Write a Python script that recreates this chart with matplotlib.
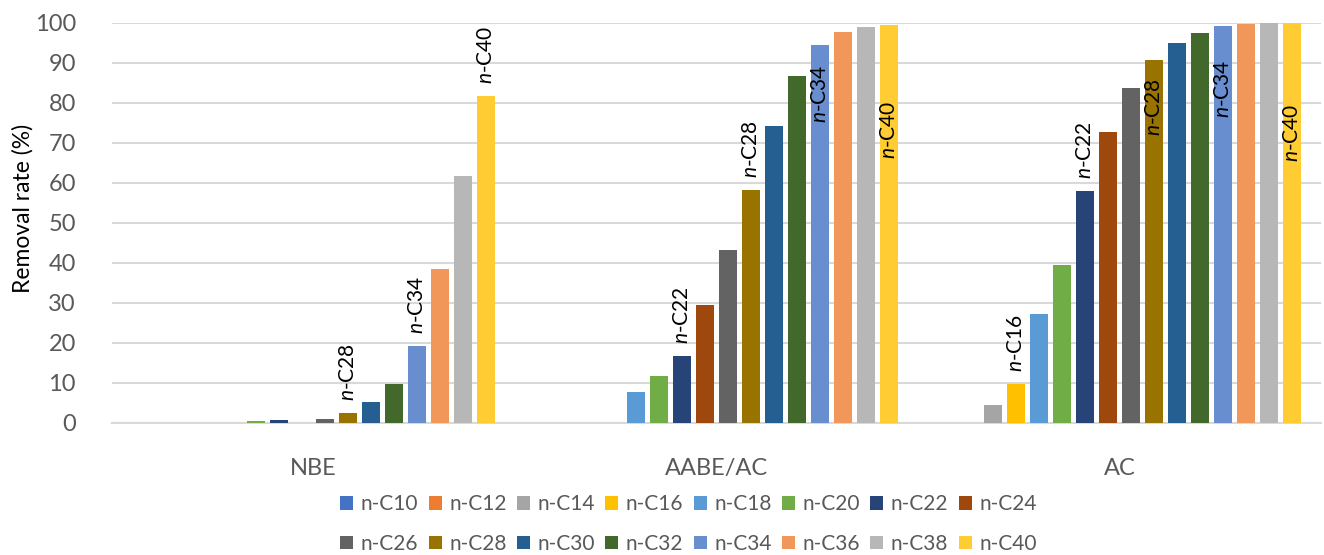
import matplotlib
matplotlib.use("Agg")
import matplotlib.pyplot as plt
from matplotlib.patches import Patch
import numpy as np

plt.rcParams["font.family"] = ["Lato", "DejaVu Sans"]
plt.rcParams["mathtext.fontset"] = "custom"
plt.rcParams["mathtext.rm"] = "Lato"
plt.rcParams["mathtext.it"] = "Lato:italic"

# data
groups = ["NBE", "AABE/AC", "AC"]
species = ["n-C10", "n-C12", "n-C14", "n-C16", "n-C18", "n-C20", "n-C22", "n-C24",
           "n-C26", "n-C28", "n-C30", "n-C32", "n-C34", "n-C36", "n-C38", "n-C40"]
nbe = [0, 0, 0, 0, 0, 0.4, 0.8, 0, 1.1, 2.4, 5.2, 9.8, 19.1, 38.4, 61.8, 81.6]
aabe_ac = [0, 0, 0, 0, 7.6, 11.6, 16.7, 29.5, 43.1, 58.3, 74.3, 86.8, 94.5, 97.7, 98.9, 99.5]
ac = [0, 0, 4.6, 9.7, 27.2, 39.5, 57.9, 72.8, 83.7, 90.6, 94.9, 97.4, 99.2, 99.8, 100, 99.9]
colors = ["#4472C4", "#ED7D31", "#A5A5A5", "#FFC000", "#5B9BD5", "#70AD47", "#264478", "#9E480E",
          "#636363", "#997300", "#255E91", "#43682B", "#698ED0", "#F1975A", "#B7B7B7", "#FFCD33"]

# labels on bars: (group index, species index, inside bar?)
labels = [(0, 9, False), (0, 12, False), (0, 15, False),
          (1, 6, False), (1, 9, False), (1, 12, True), (1, 15, True),
          (2, 3, False), (2, 6, False), (2, 9, True), (2, 12, True), (2, 15, True)]
inside_drop = {(1, 12): 5, (1, 15): 19, (2, 9): 4.4, (2, 12): 8.5, (2, 15): 20}

values = np.array([nbe, aabe_ac, ac])
x = np.arange(len(groups))
step = 0.0571
width = 0.0447

fig = plt.figure(figsize=(13.24, 5.55), dpi=100)
ax = fig.add_axes([0.0846, 0.238, 0.9131, 0.721])

for i, sp in enumerate(species):
    ax.bar(x + (i - 7.5) * step, values[:, i], width, color=colors[i], label=sp,
           zorder=3, clip_on=False)

for g, s, inside in labels:
    xp = x[g] + (s - 7.5) * step
    v = values[g, s]
    txt = r"$\it{n}$-C" + species[s][3:]
    if inside:
        ax.text(xp, v - inside_drop[(g, s)], txt, rotation=90, ha="center", va="top",
                fontsize=15, zorder=4)
    else:
        ax.text(xp, v + 3, txt, rotation=90, ha="center", va="bottom",
                fontsize=15, zorder=4)

ax.set_xlim(-0.5, 2.5)
ax.set_ylim(0, 100)
ax.set_yticks(range(0, 101, 10))
ax.set_xticks(x)
ax.set_xticklabels(groups)
ax.tick_params(axis="both", length=0, labelsize=17, colors="#595959")
ax.tick_params(axis="y", pad=26)
ax.tick_params(axis="x", pad=25)
ax.yaxis.grid(True, color="#d9d9d9", linewidth=1.5, zorder=0)
for sp in ["top", "right", "left"]:
    ax.spines[sp].set_visible(False)
ax.spines["bottom"].set_color("#d9d9d9")
ax.spines["bottom"].set_linewidth(1.5)
ax.set_ylabel("Removal rate (%)", fontsize=16.5, color="black")
ax.yaxis.set_label_coords(-0.065, 0.535)

# legend fills by column, so interleave to get row-wise order
order = [k for j in range(8) for k in (j, j + 8)]
handles = [Patch(facecolor=colors[k]) for k in order]
names = [species[k] for k in order]
fig.legend(handles, names, loc="center", bbox_to_anchor=(0.52, 0.056), ncol=8,
           frameon=False, fontsize=15, handlelength=0.63, handleheight=0.63,
           handletextpad=0.35, columnspacing=0.5, labelspacing=0.95, labelcolor="#595959",
           borderpad=0.2)

fig.savefig("out.png", dpi=100)
